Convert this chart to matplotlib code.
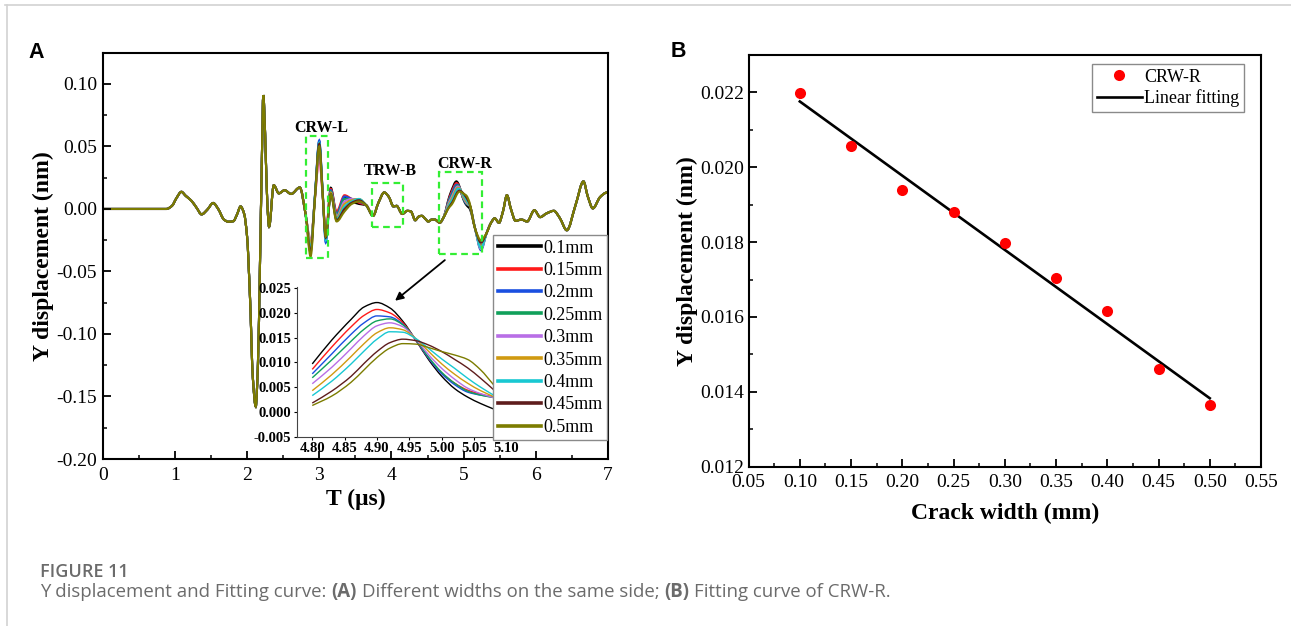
import numpy as np
import matplotlib
matplotlib.use("Agg")
import matplotlib.pyplot as plt
from matplotlib.path import Path
from matplotlib.patches import PathPatch, Rectangle
from matplotlib.lines import Line2D
from matplotlib.ticker import MultipleLocator, FormatStrFormatter

plt.rcParams['font.family'] = ['Liberation Serif', 'DejaVu Serif']
plt.rcParams['axes.unicode_minus'] = False

# ---------------- data ----------------
width_labels = ['0.1mm', '0.15mm', '0.2mm', '0.25mm', '0.3mm',
                '0.35mm', '0.4mm', '0.45mm', '0.5mm']
line_colors = ['#000000', '#ff1a1a', '#1a4fe0', '#10a05a', '#b86ee6',
               '#d09a10', '#18c8d2', '#5e1c1c', '#7c7c00']

# panel B: CRW-R peak vs crack width
crack_w = [0.10, 0.15, 0.20, 0.25, 0.30, 0.35, 0.40, 0.45, 0.50]
crw_r_y = [0.02198, 0.02057, 0.01938, 0.01881, 0.01797, 0.01703, 0.01615, 0.01460, 0.01365]

# panel A: waveform, part shared by all widths (t in us, y in nm)
early_t = [0.00, 0.88, 0.96, 1.02, 1.09, 1.15, 1.23, 1.30, 1.37, 1.45, 1.53, 1.60,
           1.68, 1.74, 1.81, 1.86, 1.91, 1.96, 2.00, 2.04, 2.08, 2.12, 2.15, 2.18,
           2.205, 2.225, 2.25, 2.28, 2.305, 2.37, 2.44, 2.52, 2.61, 2.73, 2.81]
early_y = [0.0, 0.0, 0.0025, 0.0085, 0.0137, 0.0105, 0.0065, 0.0010, -0.0043, -0.0005,
           0.0048, 0.0000, -0.0085, -0.0102, -0.0098, -0.0045, 0.0020, -0.0040, -0.0220,
           -0.0700, -0.1350, -0.1580, -0.1250, -0.0400, 0.0400, 0.0910, 0.0600, 0.0050,
           -0.0142, 0.0190, 0.0125, 0.0150, 0.0120, 0.0172, -0.0040]

# CRW-L region, one row per width
crwl_t = [2.88, 2.94, 3.00, 3.045, 3.09, 3.16, 3.24, 3.35, 3.45, 3.55]
crwl_y = [
    [-0.030, 0.010, 0.054, 0.016, -0.022, 0.017, -0.004, 0.009, 0.006, 0.004],
    [-0.027, 0.008, 0.041, 0.012, -0.019, 0.016, -0.002, 0.011, 0.008, 0.005],
    [-0.031, 0.011, 0.055, 0.015, -0.027, 0.015, -0.004, 0.010, 0.008, 0.006],
    [-0.029, 0.010, 0.052, 0.015, -0.024, 0.014, -0.005, 0.008, 0.008, 0.007],
    [-0.026, 0.008, 0.043, 0.013, -0.017, 0.013, -0.006, 0.006, 0.008, 0.007],
    [-0.028, 0.009, 0.050, 0.014, -0.021, 0.013, -0.007, 0.004, 0.007, 0.008],
    [-0.032, 0.010, 0.053, 0.015, -0.025, 0.012, -0.008, 0.002, 0.006, 0.008],
    [-0.035, 0.009, 0.052, 0.014, -0.023, 0.012, -0.009, 0.000, 0.005, 0.007],
    [-0.038, 0.008, 0.050, 0.014, -0.022, 0.012, -0.010, -0.002, 0.004, 0.006],
]

# shared part between CRW-L and CRW-R (includes TRW-B)
mid_t = [3.65, 3.745, 3.82, 3.90, 3.96, 4.03, 4.07, 4.15, 4.22, 4.27, 4.33, 4.38,
         4.42, 4.47, 4.51, 4.56, 4.60, 4.67, 4.72]
mid_y = [0.0030, -0.0055, 0.0050, 0.0132, 0.0100, 0.0020, 0.0025, -0.0040, -0.0015,
         -0.0020, -0.0090, -0.0060, -0.0055, -0.0080, -0.0100, -0.0085, -0.0085,
         -0.0110, -0.0070]

# CRW-R peak (inset), one row per width
inset_t = [4.80, 4.83, 4.86, 4.88, 4.90, 4.92, 4.94, 4.96, 4.98, 5.00, 5.02, 5.04, 5.06, 5.08]
inset_y = [
    [0.0097, 0.0145, 0.0187, 0.0212, 0.0221, 0.0210, 0.0183, 0.0145, 0.0105, 0.0072, 0.0047, 0.0030, 0.0017, 0.0006],
    [0.0086, 0.0131, 0.0172, 0.0195, 0.0207, 0.0200, 0.0180, 0.0145, 0.0108, 0.0078, 0.0058, 0.0044, 0.0036, 0.0030],
    [0.0077, 0.0117, 0.0157, 0.0180, 0.0194, 0.0192, 0.0177, 0.0145, 0.0108, 0.0077, 0.0055, 0.0040, 0.0034, 0.0030],
    [0.0069, 0.0105, 0.0143, 0.0167, 0.0184, 0.0188, 0.0176, 0.0146, 0.0110, 0.0080, 0.0058, 0.0042, 0.0034, 0.0029],
    [0.0057, 0.0090, 0.0128, 0.0154, 0.0174, 0.0180, 0.0172, 0.0147, 0.0115, 0.0088, 0.0066, 0.0048, 0.0037, 0.0029],
    [0.0043, 0.0075, 0.0112, 0.0138, 0.0160, 0.0170, 0.0166, 0.0148, 0.0122, 0.0097, 0.0076, 0.0058, 0.0043, 0.0031],
    [0.0033, 0.0062, 0.0097, 0.0123, 0.0147, 0.0162, 0.0161, 0.0148, 0.0128, 0.0107, 0.0088, 0.0068, 0.0050, 0.0034],
    [0.0018, 0.0042, 0.0072, 0.0098, 0.0122, 0.0140, 0.0147, 0.0144, 0.0135, 0.0122, 0.0106, 0.0089, 0.0068, 0.0045],
    [0.0013, 0.0032, 0.0060, 0.0085, 0.0110, 0.0129, 0.0138, 0.0137, 0.0130, 0.0122, 0.0115, 0.0106, 0.0085, 0.0055],
]

# tail after the inset window; the CRW-R trough (index 1) differs per width
tail_t = [5.16, 5.24, 5.32, 5.38, 5.43, 5.49, 5.545, 5.60, 5.655, 5.72, 5.80, 5.88,
          5.98, 6.06, 6.15, 6.25, 6.33, 6.43, 6.55, 6.66, 6.72, 6.79, 6.89, 6.97, 7.00]
tail_y = [-0.0160, None, -0.0190, -0.0110, -0.0075, -0.0110, -0.0020, 0.0110, 0.0000,
          -0.0095, -0.0085, -0.0100, -0.0010, -0.0065, -0.0035, -0.0015, -0.0070,
          -0.0170, 0.0030, 0.0220, 0.0100, 0.0005, 0.0095, 0.0130, 0.0135]
crwr_trough = [-0.030, -0.031, -0.033, -0.032, -0.032, -0.030, -0.031, -0.027, -0.025]

# annotation boxes on panel A: (t0, t1, y0, y1), label position
boxes = {'CRW-L': (2.823, 3.128, -0.0395, 0.0585, 3.03, 0.0645),
         'TRW-B': (3.734, 4.164, -0.0147, 0.0206, 3.98, 0.0300),
         'CRW-R': (4.663, 5.259, -0.0360, 0.0294, 5.01, 0.0360)}


def smooth_path(xs, ys):
    # monotone cubic connection between read points (like Origin spline line)
    xs = np.asarray(xs, float)
    ys = np.asarray(ys, float)
    h = np.diff(xs)
    d = np.diff(ys) / h
    m = np.zeros_like(xs)
    m[0], m[-1] = d[0], d[-1]
    for k in range(1, len(xs) - 1):
        if d[k - 1] * d[k] > 0:
            w1 = 2 * h[k] + h[k - 1]
            w2 = h[k] + 2 * h[k - 1]
            m[k] = (w1 + w2) / (w1 / d[k - 1] + w2 / d[k])
    verts = [(xs[0], ys[0])]
    codes = [Path.MOVETO]
    for k in range(len(xs) - 1):
        verts += [(xs[k] + h[k] / 3, ys[k] + m[k] * h[k] / 3),
                  (xs[k + 1] - h[k] / 3, ys[k + 1] - m[k + 1] * h[k] / 3),
                  (xs[k + 1], ys[k + 1])]
        codes += [Path.CURVE4] * 3
    return Path(verts, codes)


def full_trace(i):
    ty = [v if v is not None else crwr_trough[i] for v in tail_y]
    t = early_t + crwl_t + mid_t + inset_t + tail_t
    y = early_y + crwl_y[i] + mid_y + inset_y[i] + ty
    return t, y


W, H = 1291, 626
fig = plt.figure(figsize=(W / 100, H / 100), dpi=100)

def fx(px):
    return px / W

def fy(py):
    return 1 - py / H

# ---------------- panel A ----------------
axA = fig.add_axes([fx(102.7), fy(459), fx(608 - 102.7), (459 - 52.7) / H])
for i in range(len(width_labels)):
    t, y = full_trace(i)
    axA.add_patch(PathPatch(smooth_path(t, y), facecolor='none',
                            edgecolor=line_colors[i], lw=1.5))
axA.set_xlim(0, 7)
axA.set_ylim(-0.2, 0.125)
axA.xaxis.set_major_locator(MultipleLocator(1))
axA.xaxis.set_minor_locator(MultipleLocator(0.5))
axA.yaxis.set_major_locator(MultipleLocator(0.05))
axA.yaxis.set_minor_locator(MultipleLocator(0.025))
axA.yaxis.set_major_formatter(FormatStrFormatter('%.2f'))
axA.set_xlabel('T (μs)', fontsize=17, fontweight='bold', labelpad=3)
axA.set_ylabel('Y displacement (nm)', fontsize=17, fontweight='bold', labelpad=2)

for name, (t0, t1, y0, y1, lx, ly) in boxes.items():
    axA.add_patch(Rectangle((t0, y0), t1 - t0, y1 - y0, fill=False,
                            edgecolor='#33ee33', lw=1.6, ls=(0, (3, 2))))
    axA.text(lx, ly, name, fontsize=11.5, fontweight='bold', ha='center', va='center')

axA.annotate('', xy=(4.05, -0.0734), xytext=(4.74, -0.0409),
             arrowprops=dict(arrowstyle='-|>', color='black', lw=1.3,
                             mutation_scale=12, shrinkA=0, shrinkB=0))

# inset
axI = fig.add_axes([fx(296.7), fy(436.7), fx(524 - 296.7), (436.7 - 286.7) / H])
axI.patch.set_alpha(0)
for i in range(len(width_labels)):
    axI.add_patch(PathPatch(smooth_path(inset_t, inset_y[i]), facecolor='none',
                            edgecolor=line_colors[i], lw=1.0))
axI.set_xlim(4.776, 5.127)
axI.set_ylim(-0.005, 0.0253)
axI.set_xticks([4.80, 4.85, 4.90, 4.95, 5.00, 5.05, 5.10])
axI.set_yticks([-0.005, 0.0, 0.005, 0.010, 0.015, 0.020, 0.025])
axI.xaxis.set_major_formatter(FormatStrFormatter('%.2f'))
axI.yaxis.set_major_formatter(FormatStrFormatter('%.3f'))
for s in ['top', 'right']:
    axI.spines[s].set_visible(False)
for s in ['left', 'bottom']:
    axI.spines[s].set_linewidth(0.8)
    axI.spines[s].set_color('#444444')
axI.tick_params(direction='out', length=2.5, width=0.8, pad=1.5, labelsize=10.5)
for lab in axI.get_xticklabels() + axI.get_yticklabels():
    lab.set_fontweight('bold')

handles = [Line2D([], [], color=c, lw=2.6) for c in line_colors]
legA = axI.legend(handles, width_labels, loc='upper left',
                  bbox_to_anchor=(fx(493), fy(235)), bbox_transform=fig.transFigure,
                  fontsize=13, frameon=True, fancybox=False, framealpha=1,
                  edgecolor='#8a8a8a', borderpad=0.25, labelspacing=0.3,
                  handlelength=2.4, handletextpad=0.15, borderaxespad=0)
legA.get_frame().set_linewidth(1.0)

# ---------------- panel B ----------------
axB = fig.add_axes([fx(748.6), fy(466.7), fx(1261 - 748.6), (466.7 - 55) / H])
fit = np.polyfit(crack_w, crw_r_y, 1)
axB.plot(crack_w, crw_r_y, 'o', color='#ff0000', ms=8, mec='none', label='CRW-R', zorder=3)
axB.plot(crack_w, np.polyval(fit, crack_w), color='black', lw=1.9, label='Linear fitting')
axB.set_xlim(0.05, 0.55)
axB.set_ylim(0.012, 0.023)
axB.xaxis.set_major_locator(MultipleLocator(0.05))
axB.xaxis.set_minor_locator(MultipleLocator(0.025))
axB.yaxis.set_major_locator(MultipleLocator(0.002))
axB.yaxis.set_minor_locator(MultipleLocator(0.001))
axB.xaxis.set_major_formatter(FormatStrFormatter('%.2f'))
axB.yaxis.set_major_formatter(FormatStrFormatter('%.3f'))
axB.set_xlabel('Crack width (mm)', fontsize=17, fontweight='bold', labelpad=9)
axB.set_ylabel('Y displacement (nm)', fontsize=17, fontweight='bold', labelpad=2)
legB = axB.legend(loc='upper left', bbox_to_anchor=(fx(1092), fy(64)),
                  bbox_transform=fig.transFigure, fontsize=13, frameon=True,
                  fancybox=False, framealpha=1, edgecolor='#8a8a8a', borderpad=0.25,
                  labelspacing=0.22, handlelength=2.5, handletextpad=0.15,
                  borderaxespad=0)
legB.get_frame().set_linewidth(1.0)

for ax in (axA, axB):
    for s in ax.spines.values():
        s.set_linewidth(1.5)
    ax.tick_params(which='both', direction='in', top=False, right=False)
    ax.tick_params(which='major', length=6, width=1.3, labelsize=14)
    ax.tick_params(which='minor', length=3, width=1.1)
axA.tick_params(axis='x', pad=6)
axA.tick_params(axis='y', pad=4)
axB.tick_params(axis='x', pad=5)
axB.tick_params(axis='y', pad=3)

# panel letters
fig.text(fx(28), fy(58), 'A', family='Liberation Sans', fontweight='bold', fontsize=15.5)
fig.text(fx(671), fy(57), 'B', family='Liberation Sans', fontweight='bold', fontsize=15.5)

# card frame
fig.add_artist(Line2D([fx(5), 1], [fy(5), fy(5)], color='#d2d2d2', lw=1.2))
fig.add_artist(Line2D([fx(7), fx(7)], [fy(5), 0], color='#d2d2d2', lw=1.2))

# caption
cap_col = '#6b6b6b'
fig.text(fx(40), fy(572), 'FIGURE 11', family='Open Sans', fontsize=13,
         color=cap_col, va='center', fontweight='semibold')
runs = [('Y displacement and Fitting curve:', 'normal'), ('(A)', 'bold'),
        ('Different widths on the same side;', 'normal'), ('(B)', 'bold'),
        ('Fitting curve of CRW-R.', 'normal')]
cap_size = 13.4
rend = fig.canvas.get_renderer()
probe1 = fig.text(0, 0, 'x x', family='Open Sans', fontsize=cap_size)
probe2 = fig.text(0, 0, 'xx', family='Open Sans', fontsize=cap_size)
space_w = (probe1.get_window_extent(rend).width - probe2.get_window_extent(rend).width) / W
probe1.remove()
probe2.remove()
x = fx(40)
for txt, wt in runs:
    t = fig.text(x, fy(592), txt, family='Open Sans', fontsize=cap_size, color=cap_col,
                 fontweight=wt, va='center')
    x += t.get_window_extent(rend).width / W + space_w

fig.savefig('out.png', dpi=100)
